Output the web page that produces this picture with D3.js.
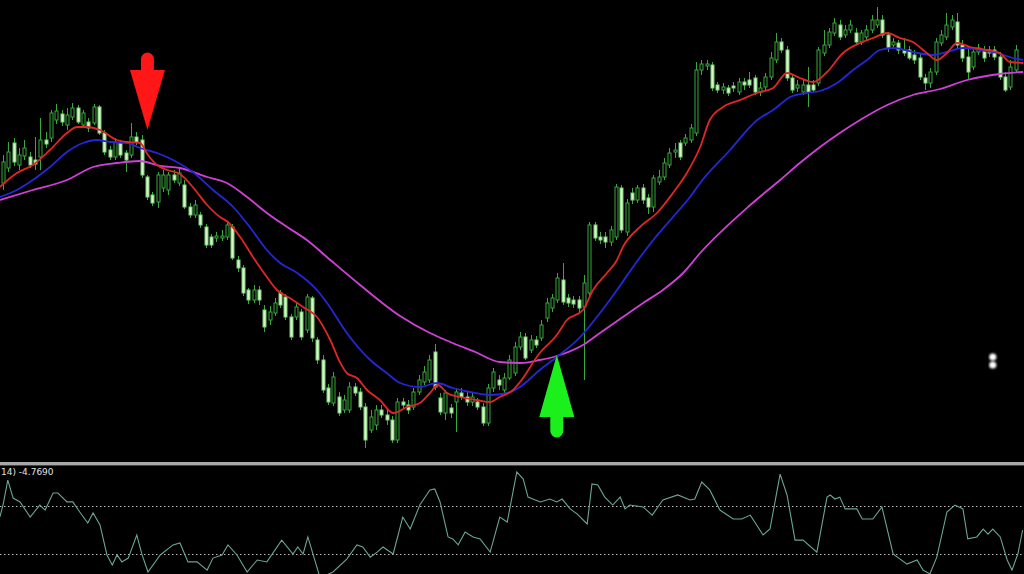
<!DOCTYPE html>
<html><head><meta charset="utf-8">
<script src="https://cdn.jsdelivr.net/npm/d3@7"></script>
<style>html,body{margin:0;padding:0;background:#000;overflow:hidden}svg{display:block}</style>
</head><body><svg id="c" width="1024" height="574"></svg>
<script>
// ---- candle data (price units) ----
const open = [317,332,357,335,344,343,340,343,360,362, 380,386,375,383,392,375,378,377,393,367, 350,343,357,347,345,363,360,323,305,298, 312,310,325,317,315,293,285,285,273,263, 262,262,263,273,240,232,210,200,210,190, 180,187,207,203,183,183,188,170,202,160, 140,112,97,103,90,90,113,108,93,70, 75,90,85,80,60,98,95,93,108,118, 120,148,102,87,92,98,107,103,98,98, 93,77,112,120,110,122,127,153,163,150, 160,162,182,192,200,220,202,200,200,193, 207,275,263,263,258,263,312,268,307,300, 312,302,293,318,323,335,348,357,357,360, 367,430,434,435,415,410,412,414,408,418, 420,422,408,413,423,440,458,450,422,412, 408,415,415,417,447,455,467,475,465,470, 467,458,463,470,475,480,465,455,457,450, 450,445,442,422,417,428,457,463,473,478, 455,443,433,448,450,450,450,443,423,413, 430];
const high = [345,358,362,352,360,348,363,382,368,390, 396,390,392,397,395,390,382,396,395,370, 354,362,360,350,377,368,365,325,308,328, 330,328,330,332,320,297,300,288,276,266, 268,270,278,276,244,235,212,215,214,195, 194,202,210,206,186,198,191,206,204,163, 145,116,128,108,105,118,117,112,97,90, 95,95,90,84,102,102,100,112,125,134, 145,156,107,110,96,112,112,108,108,102, 97,116,132,125,127,145,158,168,167,165, 164,180,202,206,227,237,206,204,204,225, 278,278,268,268,274,316,315,301,312,315, 316,306,325,330,342,352,357,360,366,376, 438,440,440,438,418,417,415,418,422,422, 428,425,418,427,448,467,462,454,426,420, 420,433,420,453,470,472,482,480,475,480, 472,470,475,485,493,485,468,462,460,462, 454,450,446,426,432,462,470,487,485,487, 460,453,452,456,454,454,454,448,428,440, 455];
const low = [310,328,334,330,340,332,330,330,352,358, 376,374,370,380,376,372,368,375,365,345, 340,340,342,328,342,355,322,300,294,292, 308,305,317,314,291,282,282,272,252,252, 258,259,260,240,228,204,196,197,195,168, 175,184,192,180,160,180,160,167,158,136, 107,95,94,84,87,87,104,90,52,67, 70,82,75,57,57,92,86,90,105,115, 117,110,85,80,82,68,100,94,94,90, 74,74,108,110,107,120,124,150,140,147, 152,159,178,188,197,195,193,192,188,120, 204,259,256,252,254,260,267,264,296,297, 296,286,288,315,320,332,342,340,354,357, 364,425,430,409,407,406,404,408,405,410, 412,405,404,410,420,437,447,419,407,408, 405,393,407,414,444,452,464,460,462,467, 455,455,460,467,472,462,448,452,446,444, 440,436,420,410,412,425,454,460,470,452, 438,420,430,445,438,443,440,420,408,410, 427];
const close = [338,348,338,345,352,335,336,360,356,387, 389,378,385,392,378,387,372,393,367,348, 343,358,345,340,363,358,325,303,297,325, 325,325,320,327,293,285,295,275,255,255, 264,264,275,242,232,207,200,210,200,173, 188,197,195,183,163,193,163,203,162,140, 110,98,123,87,100,113,107,93,60,83, 90,85,80,60,98,95,90,108,120,128, 140,113,88,107,87,108,103,98,103,93, 77,112,128,115,122,140,153,163,142,160, 155,175,197,202,222,198,197,196,192,217, 275,262,260,258,270,313,270,297,300,312, 300,293,322,323,337,347,350,343,362,372, 430,436,436,412,410,413,407,412,418,415, 415,408,412,423,442,458,450,422,410,415, 415,408,410,450,455,468,477,463,470,475, 458,467,470,480,480,465,452,458,450,447, 442,440,423,417,428,458,465,475,480,455, 442,428,448,452,442,447,443,423,410,433, 450];

// ---- moving averages (bar index, price) ----
const redBar = [-0.6,2.6,5.6,8.8,12,13.9,15.8,18.2,21.4,23.3,25.7,27.2,28.9,30.8,33.2,35.6,38.3,40.7,42.2,44.5,46.9,49.5,51.4,53.8,56.3,58.9,61.4,63.2,64.5,66.4,68.3,70.7,73.2,75.8,78.2,80.1,81.6,83.3,85.7,88.9,91.4,93.2,95.7,97,100.7,103.9,105.8,108.8,110.7,113.3,115.2,116.3,119.5,122.7,125.7,128.3,130.8,132.6,135.1,138.3,141.5,144.5,147.1,149.5,152,154.6,157.6,160.8,163.2,165.9,168.3,170.7,173.3,175.2,177.1,179,181.4,184.6,187,188.9,191.4];
const redVal = [313,327,335,350,367,373,373,370,360,358,357,345,335,330,326,313,295,283,278,263,243,223,210,202,193,183,160,138,127,122,110,100,87,93,97,107,115,107,103,100,98,103,110,118,147,165,180,190,210,227,240,253,273,287,307,327,353,380,393,400,407,412,427,422,418,428,447,457,462,467,462,458,447,440,447,457,453,450,447,438,437];
const blueBar = [-0.6,2.6,5.6,8.8,12,15,17.6,20.1,23.3,25.7,28.9,31.9,35.6,39.4,43.2,46.3,49.5,52,55.2,58.9,60.8,64.5,68.9,72,74.5,78.2,81.4,84.4,87.6,91.4,94.6,97,100.7,103.9,108.3,112,115.2,118.2,122,125.7,128.9,130.8,136.4,141.5,144.5,147.7,150.8,153.3,156.5,159.5,162.1,164.5,167,170.7,174.5,177.1,180.1,183.3,186.5,189.5,191.4];
const blueVal = [303,310,320,333,348,357,360,358,357,352,347,340,328,310,293,273,250,237,227,210,197,167,140,127,117,113,117,112,108,105,107,113,130,143,163,187,210,233,260,283,303,317,350,380,390,403,407,409,417,430,440,450,452,448,445,448,452,450,447,442,440];
const magBar = [-0.6,5.6,12,16.9,21.4,25.7,29.5,33.2,38.3,42,45.8,49.5,53.3,57,61.4,67,74.5,80.1,83.9,88.6,93.2,97,100.7,103.9,108.8,112,116.3,120.1,123.8,127.6,130.8,140.2,145.8,149.5,153.3,157,160.8,165.9,170.7,175.8,180.9,187,191.4];
const magVal = [300,310,320,333,337,339,334,332,323,317,303,287,273,260,240,215,184,167,158,148,138,137,140,144,155,167,183,197,210,227,247,295,320,337,353,367,380,395,405,411,420,426,428];

// ---- oscillator (14) ----
const oscBar = [-0.6,0,0.9,1.9,3.2,5.1,6.9,7.9,9.4,10.3,12,13.1,14.4,15.9,16.9,18.2,19.5,20.5,21.4,22.3,23.5,25.1,26.1,27.2,29.5,31.9,33.2,34.7,36.4,38.3,39.4,41.1,42.2,43.9,45.8,47.7,49.5,52.3,54.4,55.3,56.3,57.2,59.5,61.9,64.5,66.4,67.5,68.9,70.2,71.3,73.2,75,76.4,78.2,80.1,81,82,83.5,84.4,85.4,86.7,88.2,89.5,91.4,93.2,94.6,96.4,97.6,98.5,100.8,102.6,103.9,104.9,106.4,107.7,109.6,110.5,111.6,112.9,114.4,115.8,116.7,117.6,120.1,121.8,123.8,126.6,128.9,129.8,131.1,132.6,134.5,137,138.6,140.2,142.6,143.9,145.8,147.1,148.6,150.1,152.7,154.6,155.2,156.1,157,158,160.2,161.2,163.2,164.9,167,169.6,171.5,172.6,173.9,175.2,177.1,178.6,180.1,181,182.7,183.9,184.8,185.7,187.1,188.4,189.3,190.4,191.3];
const oscVal = [54,104,208,133,117,54,104,83,154,154,117,117,75,29,71,21,-104,-146,-104,-133,-117,-21,-104,-175,-104,-62,-54,-133,-133,-167,-117,-104,-62,-104,-175,-125,-133,-42,-100,-71,-100,-29,-200,-175,-121,-62,-71,-113,-92,-71,-100,54,4,104,167,171,117,-29,-37,-62,-8,-29,-37,-92,54,33,242,212,137,117,129,117,129,88,67,25,192,188,137,104,137,88,104,96,62,125,146,125,129,200,167,83,46,46,62,-21,4,233,146,-42,-42,-92,137,146,129,137,88,88,46,46,96,-100,-142,-125,-167,-183,-113,75,104,88,-37,-29,4,-17,4,-29,-125,-167,-100,0];
const oscLevels = [100, -100];
const oscLabel = "14) -4.7690";

// ---- signals ----
const signalBar = [27.1, 103.9];
const signalPrice = [370, 145];
const signalDir = ["down", "up"];
const dotBar = [185.7, 185.7];
const dotPrice = [143, 135];

// ---- drawing ----
const W = 1024, H = 574;
const svg = d3.select("#c");
svg.append("rect").attr("width", W).attr("height", H).attr("fill", "#000");
const defs = svg.append("defs");
defs.append("clipPath").attr("id", "mainClip").append("rect").attr("x", 0).attr("y", 0).attr("width", W).attr("height", 461);
defs.append("clipPath").attr("id", "oscClip").append("rect").attr("x", 0).attr("y", 466).attr("width", W).attr("height", 108);
const blur = defs.append("filter").attr("id", "soft");
blur.append("feGaussianBlur").attr("stdDeviation", 0.45);
const blur2 = defs.append("filter").attr("id", "soft2");
blur2.append("feGaussianBlur").attr("stdDeviation", 1.2);

const N = close.length;
const x = d3.scaleLinear().domain([0, N - 1]).range([3, 1015.7]);
const y = d3.scaleLinear().domain([0, 500]).range([500, 0]);
const yo = d3.scaleLinear().domain([-100, 100]).range([554, 506]);

const main = svg.append("g").attr("clip-path", "url(#mainClip)").attr("filter", "url(#soft)");
const idx = d3.range(N);
const wickC = "#3aa83e", bodyBull = "#3aa83e", fillBear = "#d6f6c6";
// wicks
main.append("g").selectAll("line").data(idx).join("line")
  .attr("x1", i => Math.round(x(i)) + 0.5).attr("x2", i => Math.round(x(i)) + 0.5)
  .attr("y1", i => y(high[i])).attr("y2", i => y(low[i]))
  .attr("stroke", wickC).attr("stroke-width", 1);
// bodies
main.append("g").selectAll("rect").data(idx).join("rect")
  .attr("x", i => Math.round(x(i)) - 1)
  .attr("y", i => y(Math.max(open[i], close[i])))
  .attr("width", 3)
  .attr("height", i => Math.max(1, Math.abs(y(open[i]) - y(close[i]))))
  .attr("fill", i => close[i] >= open[i] ? "#000" : fillBear)
  .attr("stroke", i => close[i] >= open[i] ? bodyBull : "#7fd07a")
  .attr("stroke-width", 1);

// moving averages
const maLine = d3.line().x(d => x(d[0])).y(d => y(d[1])).curve(d3.curveMonotoneX);
const mas = [
  {bar: magBar, val: magVal, color: "#d040d8"},
  {bar: blueBar, val: blueVal, color: "#2626d8"},
  {bar: redBar, val: redVal, color: "#e02626"}
];
mas.forEach(m => {
  main.append("path").datum(d3.zip(m.bar, m.val)).attr("d", maLine)
    .attr("fill", "none").attr("stroke", m.color).attr("stroke-width", 1.8)
    .attr("stroke-linejoin", "round");
});

// signal arrows
const arrowDown = "M0,0 L-17.5,-60 L-6.5,-60 L-6.5,-71 A6.5,6.5 0 0 1 6.5,-71 L6.5,-60 L17.5,-60 Z";
const arrowUp = "M0,0 L-17.5,62 L-6.5,62 L-6.5,76 A6.5,6.5 0 0 0 6.5,76 L6.5,62 L17.5,62 Z";
svg.append("g").attr("filter", "url(#soft)").selectAll("path").data(d3.range(signalBar.length)).join("path")
  .attr("transform", i => `translate(${x(signalBar[i])},${y(signalPrice[i])})`)
  .attr("d", i => signalDir[i] === "down" ? arrowDown : arrowUp)
  .attr("fill", i => signalDir[i] === "down" ? "#ff1212" : "#1ef01e");

// white dots
svg.append("g").attr("filter", "url(#soft2)").selectAll("circle").data(d3.range(dotBar.length)).join("circle")
  .attr("cx", i => x(dotBar[i])).attr("cy", i => y(dotPrice[i])).attr("r", 3.6).attr("fill", "#fff");

// separator
svg.append("rect").attr("x", 0).attr("y", 462).attr("width", W).attr("height", 3).attr("fill", "#a8a8a8");
svg.append("rect").attr("x", 0).attr("y", 465).attr("width", W).attr("height", 1).attr("fill", "#444");

// oscillator
const og = svg.append("g").attr("clip-path", "url(#oscClip)");
og.selectAll("line.lvl").data(oscLevels).join("line").attr("class", "lvl")
  .attr("x1", 0).attr("x2", W).attr("y1", d => Math.round(yo(d)) + 0.5).attr("y2", d => Math.round(yo(d)) + 0.5)
  .attr("stroke", "#b8b8b8").attr("stroke-width", 1).attr("stroke-dasharray", "1.5,2.5");
og.append("path").datum(d3.zip(oscBar, oscVal))
  .attr("d", d3.line().x(d => x(d[0])).y(d => yo(d[1])))
  .attr("fill", "none").attr("stroke", "#6aa595").attr("stroke-width", 1.1).attr("filter", "url(#soft)");
svg.append("text").attr("x", 1).attr("y", 475).text(oscLabel)
  .attr("fill", "#e0e0e0").attr("font-family", "DejaVu Sans, sans-serif").attr("font-size", 9);
</script></body></html>
